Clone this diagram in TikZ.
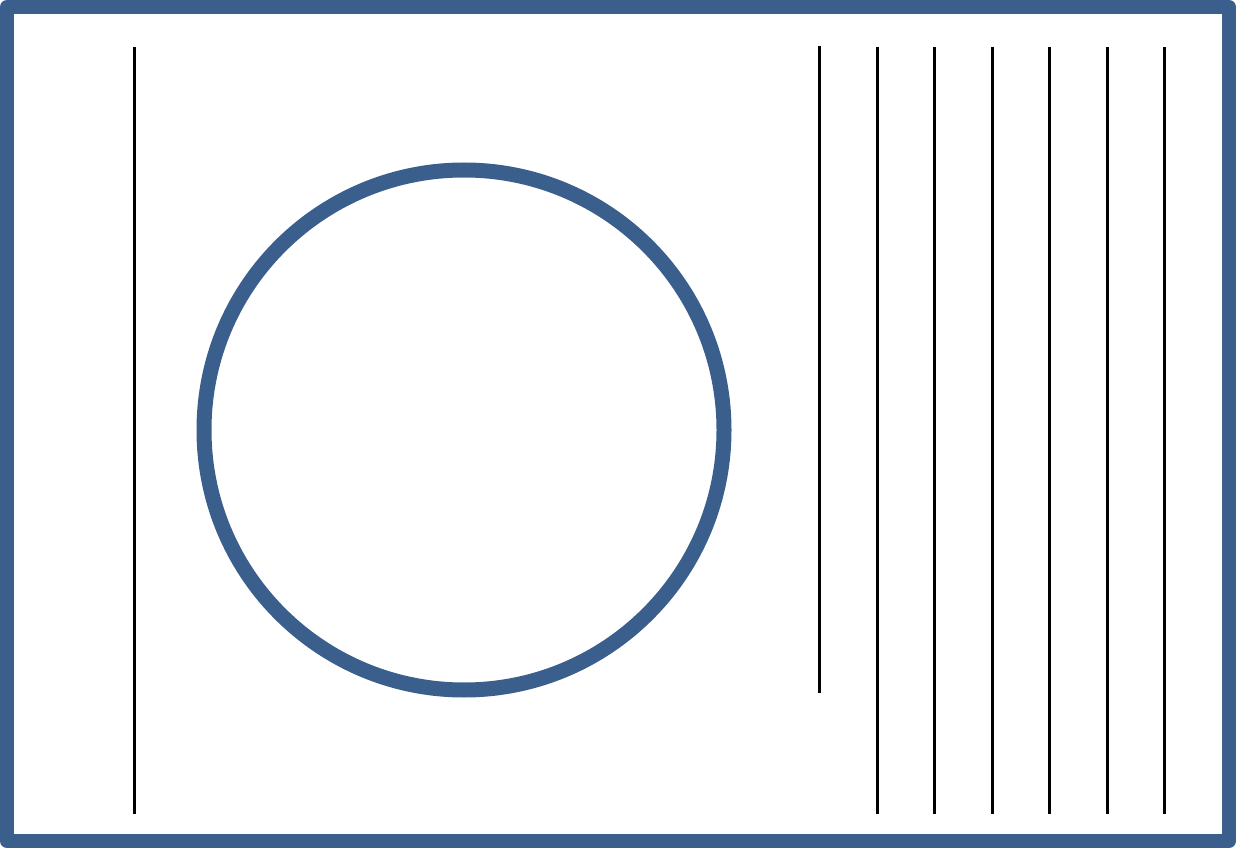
\documentclass[tikz,border=0pt]{standalone}
\usepackage{tikz}
\usepackage{xcolor}
\usetikzlibrary{positioning,calc}

\definecolor{frameblue}{RGB}{58,95,140}

\begin{document}
\begin{tikzpicture}[
    x=1pt, y=-1pt,
    frame/.style={draw=frameblue, line width=14pt, line join=round},
    ring/.style={draw=frameblue, line width=15pt},
    rod/.style={draw=black, line width=3pt}
]
    \useasboundingbox (0,0) rectangle (1243,850);
    \draw[frame] (7,7) rectangle (1229,841);

    % drum
    \draw[ring] (464,430) circle (260);

    % left rod and short rod
    \coordinate (l1) at (134,47);
    \coordinate (l2) at (134,814);
    \draw[rod] (l1) -- (l2);
    \coordinate (s1) at (819,46);
    \coordinate (s2) at (819,693);
    \draw[rod] (s1) -- (s2);

    % grille
    \foreach \x in {877,934.5,992,1049.5,1107,1164}
        \draw[rod] (\x,47) -- (\x,814);
\end{tikzpicture}
\end{document}
